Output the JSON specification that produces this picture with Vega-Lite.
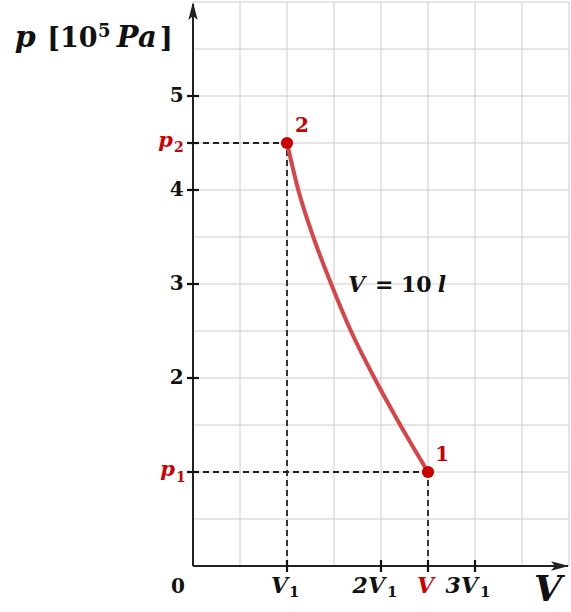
{
  "$schema": "https://vega.github.io/schema/vega-lite/v6.json",
  "width": 376,
  "height": 564,
  "autosize": {"type": "none"},
  "padding": {"left": 193, "top": 2, "right": 2, "bottom": 46},
  "background": "white",
  "config": {"view": {"stroke": null}, "font": "DejaVu Serif"},
  "datasets": {
    "gridV": [{"x": 1}, {"x": 2}, {"x": 3}, {"x": 4}, {"x": 5}, {"x": 6}, {"x": 7}, {"x": 8}],
    "gridH": [{"y": 0.5}, {"y": 1}, {"y": 1.5}, {"y": 2}, {"y": 2.5}, {"y": 3}, {"y": 3.5}, {"y": 4}, {"y": 4.5}, {"y": 5}, {"y": 5.5}, {"y": 6}],
    "dashes": [
      {"x": 0, "y": 4.5, "x2": 2, "y2": 4.5},
      {"x": 2, "y": 0, "x2": 2, "y2": 4.5},
      {"x": 0, "y": 1, "x2": 5, "y2": 1},
      {"x": 5, "y": 0, "x2": 5, "y2": 1}
    ],
    "axisLines": [
      {"x": 0, "y": 0, "x2": 0, "y2": 5.98},
      {"x": 0, "y": 0, "x2": 7.98, "y2": 0}
    ],
    "curve": [
      {"x": 2.0, "y": 4.5},
      {"x": 2.24, "y": 4.0},
      {"x": 2.56, "y": 3.5},
      {"x": 2.94, "y": 3.0},
      {"x": 3.36, "y": 2.5},
      {"x": 3.86, "y": 2.0},
      {"x": 4.41, "y": 1.5},
      {"x": 5.0, "y": 1.0}
    ],
    "states": [{"x": 2, "y": 4.5}, {"x": 5, "y": 1}],
    "stateLabels": [{"x": 2.32, "y": 4.68, "text": "2"}, {"x": 5.3, "y": 1.18, "text": "1"}],
    "yticks": [{"x": 0, "y": 1}, {"x": 0, "y": 2}, {"x": 0, "y": 3}, {"x": 0, "y": 4}, {"x": 0, "y": 4.5}, {"x": 0, "y": 5}],
    "xticks": [{"x": 2, "y": 0}, {"x": 4, "y": 0}, {"x": 5, "y": 0}, {"x": 6, "y": 0}],
    "yLabels": [{"x": -0.2, "y": 2, "text": "2"}, {"x": -0.2, "y": 3, "text": "3"}, {"x": -0.2, "y": 4, "text": "4"}, {"x": -0.2, "y": 5, "text": "5"}],
    "yLabelsRedMain": [{"x": -0.426, "y": 4.457, "text": "p"}, {"x": -0.383, "y": 0.957, "text": "p"}],
    "yLabelsRedSub": [{"x": -0.404, "y": 4.404, "text": "2"}, {"x": -0.362, "y": 0.894, "text": "1"}],
    "xLabelsMain": [{"x": 2.021, "y": -0.287, "text": "V"}, {"x": 4.085, "y": -0.287, "text": "2V"}, {"x": 6.064, "y": -0.287, "text": "3V"}],
    "xLabelsSub": [{"x": 2.043, "y": -0.33, "text": "1"}, {"x": 4.128, "y": -0.33, "text": "1"}, {"x": 6.106, "y": -0.33, "text": "1"}],
    "xLabelsRed": [{"x": 4.947, "y": -0.287, "text": "V"}],
    "yArrow": [{"x": 0, "y": 6}],
    "xArrow": [{"x": 8, "y": 0}],
    "zero": [{"x": -0.32, "y": -0.287, "text": "0"}],
    "vTitle": [{"x": 7.55, "y": -0.26, "text": "V"}],
    "pTitleP": [{"x": -3.79, "y": 5.52, "text": "p"}],
    "pTitlePa": [{"x": -1.62, "y": 5.52, "text": "Pa"}],
    "pTitleUpright": [{"x": -3.1, "y": 5.52, "text": "[10"}, {"x": -0.7, "y": 5.52, "text": "]"}],
    "pTitleSup": [{"x": -2.02, "y": 5.63, "text": "5"}],
    "annItalic": [{"x": 3.3, "y": 2.915, "text": "V"}, {"x": 5.21, "y": 2.915, "text": "l"}],
    "annUpright": [{"x": 3.87, "y": 2.915, "text": "= 10"}]
  },
  "encoding": {
    "x": {"field": "x", "type": "quantitative", "scale": {"domain": [0, 8], "nice": false, "zero": false}, "axis": null},
    "y": {"field": "y", "type": "quantitative", "scale": {"domain": [0, 6], "nice": false, "zero": false}, "axis": null}
  },
  "layer": [
    {
      "data": {"name": "gridV"},
      "mark": {"type": "rule", "color": "#cccccc", "strokeWidth": 1},
      "encoding": {"y": null}
    },
    {
      "data": {"name": "gridH"},
      "mark": {"type": "rule", "color": "#cccccc", "strokeWidth": 1},
      "encoding": {"x": null}
    },
    {
      "data": {"name": "dashes"},
      "mark": {"type": "rule", "color": "#222222", "strokeWidth": 1.8, "strokeDash": [6, 4]},
      "encoding": {"x2": {"field": "x2"}, "y2": {"field": "y2"}}
    },
    {
      "data": {"name": "axisLines"},
      "mark": {"type": "rule", "color": "#222222", "strokeWidth": 2},
      "encoding": {"x2": {"field": "x2"}, "y2": {"field": "y2"}}
    },
    {
      "data": {"name": "curve"},
      "mark": {"type": "line", "color": "#d94448", "strokeWidth": 4, "interpolate": "monotone"},
      "encoding": {}
    },
    {
      "data": {"name": "states"},
      "mark": {"type": "point", "filled": true, "color": "#cc0000", "size": 150, "opacity": 1, "shape": "circle"},
      "encoding": {}
    },
    {
      "data": {"name": "yticks"},
      "mark": {"type": "point", "shape": "M-1,0L1,0", "size": 144, "filled": false, "stroke": "#111111", "strokeWidth": 2.2, "opacity": 1},
      "encoding": {}
    },
    {
      "data": {"name": "xticks"},
      "mark": {"type": "point", "shape": "M0,-1L0,1", "size": 144, "filled": false, "stroke": "#111111", "strokeWidth": 2.2, "opacity": 1},
      "encoding": {}
    },
    {
      "data": {"name": "yArrow"},
      "mark": {"type": "point", "shape": "M0,0L-0.26,1L0,0.78L0.26,1Z", "size": 1296, "filled": true, "color": "#222222", "opacity": 1, "clip": false},
      "encoding": {}
    },
    {
      "data": {"name": "xArrow"},
      "mark": {"type": "point", "shape": "M0,0L-1,-0.26L-0.78,0L-1,0.26Z", "size": 1296, "filled": true, "color": "#222222", "opacity": 1, "clip": false},
      "encoding": {}
    },
    {
      "data": {"name": "yLabels"},
      "mark": {"type": "text", "font": "DejaVu Serif", "fontWeight": "bold", "fontSize": 20, "color": "#111111", "align": "right", "baseline": "middle"},
      "encoding": {"text": {"field": "text"}}
    },
    {
      "data": {"name": "yLabelsRedMain"},
      "mark": {"type": "text", "font": "DejaVu Serif", "fontWeight": "bold", "fontStyle": "italic", "fontSize": 21, "color": "#cc0000", "align": "right", "baseline": "alphabetic"},
      "encoding": {"text": {"field": "text"}}
    },
    {
      "data": {"name": "yLabelsRedSub"},
      "mark": {"type": "text", "font": "DejaVu Serif", "fontWeight": "bold", "fontSize": 14, "color": "#cc0000", "align": "left", "baseline": "alphabetic"},
      "encoding": {"text": {"field": "text"}}
    },
    {
      "data": {"name": "xLabelsMain"},
      "mark": {"type": "text", "font": "DejaVu Serif", "fontWeight": "bold", "fontStyle": "italic", "fontSize": 22, "color": "#111111", "align": "right", "baseline": "alphabetic"},
      "encoding": {"text": {"field": "text"}}
    },
    {
      "data": {"name": "xLabelsSub"},
      "mark": {"type": "text", "font": "DejaVu Serif", "fontWeight": "bold", "fontSize": 15, "color": "#111111", "align": "left", "baseline": "alphabetic"},
      "encoding": {"text": {"field": "text"}}
    },
    {
      "data": {"name": "xLabelsRed"},
      "mark": {"type": "text", "font": "DejaVu Serif", "fontWeight": "bold", "fontStyle": "italic", "fontSize": 22, "color": "#cc0000", "align": "center", "baseline": "alphabetic"},
      "encoding": {"text": {"field": "text"}}
    },
    {
      "data": {"name": "stateLabels"},
      "mark": {"type": "text", "font": "DejaVu Serif", "fontWeight": "bold", "fontSize": 20, "color": "#cc0000", "align": "center", "baseline": "middle"},
      "encoding": {"text": {"field": "text"}}
    },
    {
      "data": {"name": "zero"},
      "mark": {"type": "text", "font": "DejaVu Serif", "fontWeight": "bold", "fontSize": 20, "color": "#111111", "align": "center", "baseline": "alphabetic"},
      "encoding": {"text": {"field": "text"}}
    },
    {
      "data": {"name": "vTitle"},
      "mark": {"type": "text", "font": "DejaVu Serif", "fontWeight": "bold", "fontStyle": "italic", "fontSize": 36, "color": "#111111", "align": "center", "baseline": "middle"},
      "encoding": {"text": {"field": "text"}}
    },
    {
      "data": {"name": "pTitleP"},
      "mark": {"type": "text", "font": "DejaVu Serif", "fontWeight": "bold", "fontStyle": "italic", "fontSize": 30, "color": "#111111", "align": "left", "baseline": "alphabetic"},
      "encoding": {"text": {"field": "text"}}
    },
    {
      "data": {"name": "pTitlePa"},
      "mark": {"type": "text", "font": "DejaVu Serif", "fontWeight": "bold", "fontStyle": "italic", "fontSize": 29, "color": "#111111", "align": "left", "baseline": "alphabetic"},
      "encoding": {"text": {"field": "text"}}
    },
    {
      "data": {"name": "pTitleUpright"},
      "mark": {"type": "text", "font": "DejaVu Serif", "fontWeight": "bold", "fontSize": 27, "color": "#111111", "align": "left", "baseline": "alphabetic"},
      "encoding": {"text": {"field": "text"}}
    },
    {
      "data": {"name": "pTitleSup"},
      "mark": {"type": "text", "font": "DejaVu Serif", "fontWeight": "bold", "fontSize": 18, "color": "#111111", "align": "left", "baseline": "alphabetic"},
      "encoding": {"text": {"field": "text"}}
    },
    {
      "data": {"name": "annItalic"},
      "mark": {"type": "text", "font": "DejaVu Serif", "fontWeight": "bold", "fontStyle": "italic", "fontSize": 22, "color": "#111111", "align": "left", "baseline": "alphabetic"},
      "encoding": {"text": {"field": "text"}}
    },
    {
      "data": {"name": "annUpright"},
      "mark": {"type": "text", "font": "DejaVu Serif", "fontWeight": "bold", "fontSize": 22, "color": "#111111", "align": "left", "baseline": "alphabetic"},
      "encoding": {"text": {"field": "text"}}
    }
  ]
}
